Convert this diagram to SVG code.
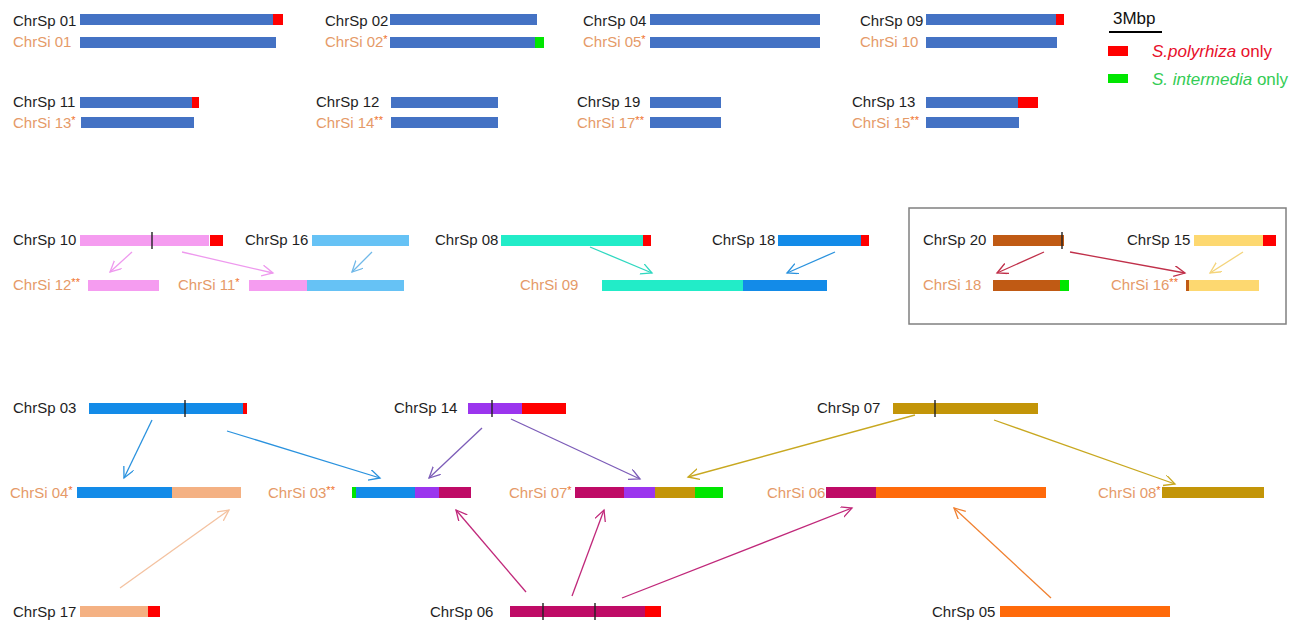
<svg xmlns="http://www.w3.org/2000/svg" width="1311" height="624" viewBox="0 0 1311 624">
<style>
text{font-family:"Liberation Sans",Arial,sans-serif;font-size:15px}
.sp{fill:#1e1e1e}
.si{fill:#e59a68}
.ast{fill:#f0702a;font-size:11px}
.tick{stroke:#222;stroke-width:1.4}
.arr{fill:none;stroke-width:1.3}
.blue{fill:#4472c4}.red{fill:#ff0000}.grn{fill:#00e600}
.pink{fill:#f59cf0}.lblue{fill:#66c2f5}.turq{fill:#22ecc8}.dblue{fill:#138be8}
.brown{fill:#c05a14}.yel{fill:#fdd870}.tan{fill:#f4b183}.purp{fill:#9b35ee}
.mag{fill:#bf0b66}.gold{fill:#c39508}.orng{fill:#ff6a0a}
</style>
<defs>
<marker id="m-pink" markerWidth="13" markerHeight="13" refX="11" refY="5.5" orient="auto" markerUnits="userSpaceOnUse"><path d="M0,0 L11,5.5 L0,11" fill="none" stroke="#ee99ee" stroke-width="1.3"/></marker>
<marker id="m-lblue" markerWidth="13" markerHeight="13" refX="11" refY="5.5" orient="auto" markerUnits="userSpaceOnUse"><path d="M0,0 L11,5.5 L0,11" fill="none" stroke="#70b8e8" stroke-width="1.3"/></marker>
<marker id="m-turq" markerWidth="13" markerHeight="13" refX="11" refY="5.5" orient="auto" markerUnits="userSpaceOnUse"><path d="M0,0 L11,5.5 L0,11" fill="none" stroke="#30d8c0" stroke-width="1.3"/></marker>
<marker id="m-blue" markerWidth="13" markerHeight="13" refX="11" refY="5.5" orient="auto" markerUnits="userSpaceOnUse"><path d="M0,0 L11,5.5 L0,11" fill="none" stroke="#2a92de" stroke-width="1.3"/></marker>
<marker id="m-dred" markerWidth="13" markerHeight="13" refX="11" refY="5.5" orient="auto" markerUnits="userSpaceOnUse"><path d="M0,0 L11,5.5 L0,11" fill="none" stroke="#c0304a" stroke-width="1.3"/></marker>
<marker id="m-yel" markerWidth="13" markerHeight="13" refX="11" refY="5.5" orient="auto" markerUnits="userSpaceOnUse"><path d="M0,0 L11,5.5 L0,11" fill="none" stroke="#f4d47a" stroke-width="1.3"/></marker>
<marker id="m-purp" markerWidth="13" markerHeight="13" refX="11" refY="5.5" orient="auto" markerUnits="userSpaceOnUse"><path d="M0,0 L11,5.5 L0,11" fill="none" stroke="#7c5cb8" stroke-width="1.3"/></marker>
<marker id="m-gold" markerWidth="13" markerHeight="13" refX="11" refY="5.5" orient="auto" markerUnits="userSpaceOnUse"><path d="M0,0 L11,5.5 L0,11" fill="none" stroke="#c8a820" stroke-width="1.3"/></marker>
<marker id="m-tan" markerWidth="13" markerHeight="13" refX="11" refY="5.5" orient="auto" markerUnits="userSpaceOnUse"><path d="M0,0 L11,5.5 L0,11" fill="none" stroke="#f4c2a0" stroke-width="1.3"/></marker>
<marker id="m-mag" markerWidth="13" markerHeight="13" refX="11" refY="5.5" orient="auto" markerUnits="userSpaceOnUse"><path d="M0,0 L11,5.5 L0,11" fill="none" stroke="#c0287a" stroke-width="1.3"/></marker>
<marker id="m-orng" markerWidth="13" markerHeight="13" refX="11" refY="5.5" orient="auto" markerUnits="userSpaceOnUse"><path d="M0,0 L11,5.5 L0,11" fill="none" stroke="#f08030" stroke-width="1.3"/></marker>
</defs>
<rect width="1311" height="624" fill="#ffffff"/>

<!-- Row 1 -->
<g id="sp01"><text class="sp" x="13" y="26">ChrSp 01</text><rect class="blue" x="80" y="14" width="193" height="11"/><rect class="red" x="273" y="14" width="10" height="11"/></g>
<g id="si01"><text class="si" x="13" y="47">ChrSi 01</text><rect class="blue" x="80" y="37" width="196" height="11"/></g>
<g id="sp02"><text class="sp" x="325" y="26">ChrSp 02</text><rect class="blue" x="390" y="14" width="147" height="11"/></g>
<g id="si02"><text class="si" x="325" y="47">ChrSi 02<tspan class="ast" dy="-4">*</tspan></text><rect class="blue" x="390" y="37" width="145" height="11"/><rect class="grn" x="535" y="37" width="9" height="11"/></g>
<g id="sp04"><text class="sp" x="583" y="26">ChrSp 04</text><rect class="blue" x="650" y="14" width="170" height="11"/></g>
<g id="si05"><text class="si" x="583" y="47">ChrSi 05<tspan class="ast" dy="-4">*</tspan></text><rect class="blue" x="650" y="37" width="170" height="11"/></g>
<g id="sp09"><text class="sp" x="860" y="26">ChrSp 09</text><rect class="blue" x="926" y="14" width="130" height="11"/><rect class="red" x="1056" y="14" width="8" height="11"/></g>
<g id="si10"><text class="si" x="860" y="47">ChrSi 10</text><rect class="blue" x="926" y="37" width="131" height="11"/></g>

<!-- Legend -->
<g id="legend">
<text x="1113" y="24" style="font-size:17px" fill="#111">3Mbp</text>
<line x1="1109" y1="32" x2="1162" y2="32" stroke="#000" stroke-width="2"/>
<rect class="red" x="1108" y="46" width="20" height="10"/>
<text x="1152" y="57" style="font-size:17px" fill="#e8102b"><tspan font-style="italic">S.polyrhiza</tspan> only</text>
<rect class="grn" x="1108" y="74" width="20" height="9"/>
<text x="1152" y="85" style="font-size:17px" fill="#33cc55"><tspan font-style="italic">S. intermedia</tspan> only</text>
</g>

<!-- Row 1b -->
<g id="sp11"><text class="sp" x="13" y="107">ChrSp 11</text><rect class="blue" x="80" y="97" width="112" height="11"/><rect class="red" x="192" y="97" width="7" height="11"/></g>
<g id="si13"><text class="si" x="13" y="128">ChrSi 13<tspan class="ast" dy="-4">*</tspan></text><rect class="blue" x="81" y="117" width="113" height="11"/></g>
<g id="sp12"><text class="sp" x="316" y="107">ChrSp 12</text><rect class="blue" x="391" y="97" width="107" height="11"/></g>
<g id="si14"><text class="si" x="316" y="128">ChrSi 14<tspan class="ast" dy="-4">**</tspan></text><rect class="blue" x="391" y="117" width="107" height="11"/></g>
<g id="sp19"><text class="sp" x="577" y="107">ChrSp 19</text><rect class="blue" x="650" y="97" width="71" height="11"/></g>
<g id="si17"><text class="si" x="577" y="128">ChrSi 17<tspan class="ast" dy="-4">**</tspan></text><rect class="blue" x="650" y="117" width="71" height="11"/></g>
<g id="sp13"><text class="sp" x="852" y="107">ChrSp 13</text><rect class="blue" x="926" y="97" width="92" height="11"/><rect class="red" x="1018" y="97" width="20" height="11"/></g>
<g id="si15"><text class="si" x="852" y="128">ChrSi 15<tspan class="ast" dy="-4">**</tspan></text><rect class="blue" x="926" y="117" width="93" height="11"/></g>

<!-- Row 2 -->
<g id="sp10"><text class="sp" x="13" y="245">ChrSp 10</text><rect class="pink" x="80" y="235" width="129" height="11"/><rect class="red" x="210" y="235" width="13" height="11"/><line class="tick" x1="152" y1="232" x2="152" y2="249"/></g>
<g id="sp16"><text class="sp" x="245" y="245">ChrSp 16</text><rect class="lblue" x="312" y="235" width="97" height="11"/></g>
<g id="si12"><text class="si" x="13" y="290">ChrSi 12<tspan class="ast" dy="-4">**</tspan></text><rect class="pink" x="88" y="280" width="71" height="11"/></g>
<g id="si11"><text class="si" x="178" y="290">ChrSi 11<tspan class="ast" dy="-4">*</tspan></text><rect class="pink" x="249" y="280" width="58" height="11"/><rect class="lblue" x="307" y="280" width="97" height="11"/></g>
<g id="sp08"><text class="sp" x="435" y="245">ChrSp 08</text><rect class="turq" x="501" y="235" width="142" height="11"/><rect class="red" x="643" y="235" width="8" height="11"/></g>
<g id="sp18"><text class="sp" x="712" y="245">ChrSp 18</text><rect class="dblue" x="778" y="235" width="83" height="11"/><rect class="red" x="861" y="235" width="8" height="11"/></g>
<g id="si09"><text class="si" x="520" y="290">ChrSi 09</text><rect class="turq" x="602" y="280" width="141" height="11"/><rect class="dblue" x="743" y="280" width="84" height="11"/></g>

<g id="box"><rect x="909" y="208" width="377" height="116" fill="none" stroke="#808080" stroke-width="1.5"/></g>
<g id="sp20"><text class="sp" x="923" y="245">ChrSp 20</text><rect class="brown" x="993" y="235" width="71" height="11"/><line class="tick" x1="1062" y1="232" x2="1062" y2="249"/></g>
<g id="sp15"><text class="sp" x="1127" y="245">ChrSp 15</text><rect class="yel" x="1194" y="235" width="69" height="11"/><rect class="red" x="1263" y="235" width="13" height="11"/></g>
<g id="si18"><text class="si" x="923" y="290">ChrSi 18</text><rect class="brown" x="993" y="280" width="67" height="11"/><rect class="grn" x="1060" y="280" width="9" height="11"/></g>
<g id="si16"><text class="si" x="1111" y="290">ChrSi 16<tspan class="ast" dy="-4">**</tspan></text><rect class="brown" x="1186" y="280" width="3" height="11"/><rect class="yel" x="1189" y="280" width="70" height="11"/></g>

<!-- Row 3 -->
<g id="sp03"><text class="sp" x="13" y="413">ChrSp 03</text><rect class="dblue" x="89" y="403" width="154" height="11"/><rect class="red" x="243" y="403" width="4" height="11"/><line class="tick" x1="185" y1="400" x2="185" y2="417"/></g>
<g id="sp14"><text class="sp" x="394" y="413">ChrSp 14</text><rect class="purp" x="468" y="403" width="54" height="11"/><rect class="red" x="522" y="403" width="44" height="11"/><line class="tick" x1="492" y1="400" x2="492" y2="417"/></g>
<g id="sp07"><text class="sp" x="817" y="413">ChrSp 07</text><rect class="gold" x="893" y="403" width="145" height="11"/><line class="tick" x1="935" y1="400" x2="935" y2="417"/></g>
<g id="si04"><text class="si" x="10" y="498">ChrSi 04<tspan class="ast" dy="-4">*</tspan></text><rect class="dblue" x="77" y="487" width="95" height="11"/><rect class="tan" x="172" y="487" width="69" height="11"/></g>
<g id="si03"><text class="si" x="268" y="498">ChrSi 03<tspan class="ast" dy="-4">**</tspan></text><rect class="grn" x="352" y="487" width="4" height="11"/><rect class="dblue" x="356" y="487" width="59" height="11"/><rect class="purp" x="415" y="487" width="24" height="11"/><rect class="mag" x="439" y="487" width="32" height="11"/></g>
<g id="si07"><text class="si" x="509" y="498">ChrSi 07<tspan class="ast" dy="-4">*</tspan></text><rect class="mag" x="575" y="487" width="49" height="11"/><rect class="purp" x="624" y="487" width="31" height="11"/><rect class="gold" x="655" y="487" width="40" height="11"/><rect class="grn" x="695" y="487" width="28" height="11"/></g>
<g id="si06"><text class="si" x="767" y="498">ChrSi 06</text><rect class="mag" x="826" y="487" width="50" height="11"/><rect class="orng" x="876" y="487" width="170" height="11"/></g>
<g id="si08"><text class="si" x="1098" y="498">ChrSi 08<tspan class="ast" dy="-4">*</tspan></text><rect class="gold" x="1162" y="487" width="102" height="11"/></g>

<!-- Row 4 -->
<g id="sp17"><text class="sp" x="13" y="617">ChrSp 17</text><rect class="tan" x="80" y="606" width="68" height="11"/><rect class="red" x="148" y="606" width="12" height="11"/></g>
<g id="sp06"><text class="sp" x="430" y="617">ChrSp 06</text><rect class="mag" x="510" y="606" width="135" height="11"/><rect class="red" x="645" y="606" width="16" height="11"/><line class="tick" x1="543" y1="603" x2="543" y2="620"/><line class="tick" x1="595" y1="603" x2="595" y2="620"/></g>
<g id="sp05"><text class="sp" x="932" y="617">ChrSp 05</text><rect class="orng" x="1000" y="606" width="170" height="11"/></g>

<g id="connectors">
<line class="arr" stroke="#ee99ee" x1="132" y1="252" x2="110" y2="272" marker-end="url(#m-pink)"/>
<line class="arr" stroke="#ee99ee" x1="182" y1="252" x2="273" y2="273" marker-end="url(#m-pink)"/>
<line class="arr" stroke="#70b8e8" x1="372" y1="252" x2="352" y2="272" marker-end="url(#m-lblue)"/>
<line class="arr" stroke="#30d8c0" x1="590" y1="247" x2="652" y2="273" marker-end="url(#m-turq)"/>
<line class="arr" stroke="#2a92de" x1="835" y1="252" x2="787" y2="273" marker-end="url(#m-blue)"/>
<line class="arr" stroke="#c0304a" x1="1044" y1="252" x2="997" y2="273" marker-end="url(#m-dred)"/>
<line class="arr" stroke="#c0304a" x1="1070" y1="252" x2="1185" y2="273" marker-end="url(#m-dred)"/>
<line class="arr" stroke="#f4d47a" x1="1243" y1="252" x2="1210" y2="273" marker-end="url(#m-yel)"/>
<line class="arr" stroke="#2a92de" x1="152" y1="420" x2="124" y2="478" marker-end="url(#m-blue)"/>
<line class="arr" stroke="#2a92de" x1="227" y1="431" x2="380" y2="478" marker-end="url(#m-blue)"/>
<line class="arr" stroke="#7c5cb8" x1="482" y1="428" x2="429" y2="478" marker-end="url(#m-purp)"/>
<line class="arr" stroke="#7c5cb8" x1="511" y1="419" x2="640" y2="479" marker-end="url(#m-purp)"/>
<line class="arr" stroke="#c8a820" x1="915" y1="415" x2="688" y2="477" marker-end="url(#m-gold)"/>
<line class="arr" stroke="#c8a820" x1="994" y1="420" x2="1175" y2="484" marker-end="url(#m-gold)"/>
<line class="arr" stroke="#f4c2a0" x1="120" y1="588" x2="229" y2="510" marker-end="url(#m-tan)"/>
<line class="arr" stroke="#c0287a" x1="526" y1="592" x2="456" y2="510" marker-end="url(#m-mag)"/>
<line class="arr" stroke="#c0287a" x1="572" y1="596" x2="604" y2="510" marker-end="url(#m-mag)"/>
<line class="arr" stroke="#c0287a" x1="622" y1="598" x2="852" y2="508" marker-end="url(#m-mag)"/>
<line class="arr" stroke="#f08030" x1="1051" y1="598" x2="954" y2="508" marker-end="url(#m-orng)"/>
</g>
</svg>
